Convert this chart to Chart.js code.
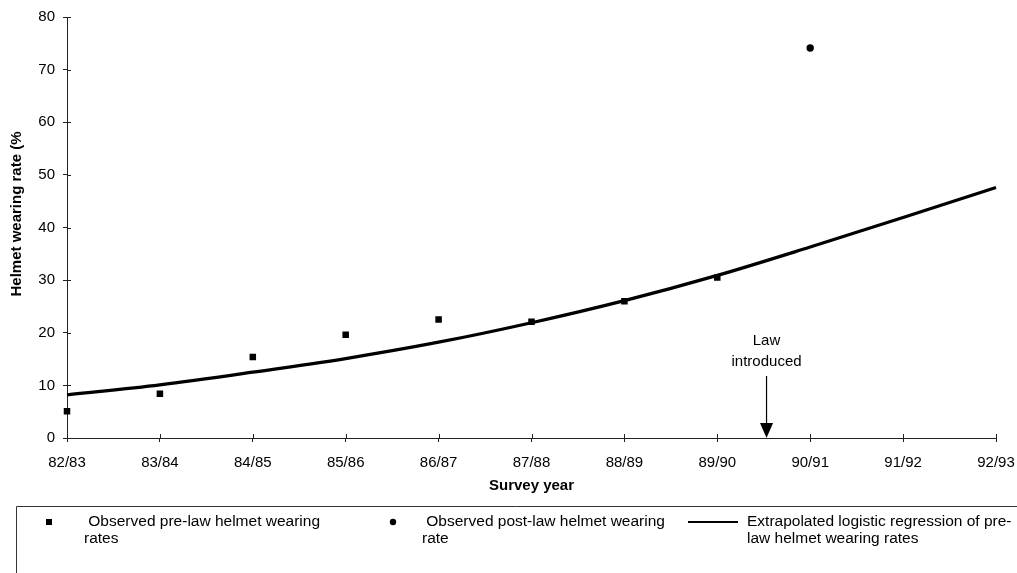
<!DOCTYPE html>
<html>
<head>
<meta charset="utf-8">
<title>Helmet wearing rates</title>
<script src="https://cdn.jsdelivr.net/npm/chart.js@4.4.1/dist/chart.umd.min.js"></script>
<style>
    html, body { margin: 0; padding: 0; background: #fff; }
    #wrap { width: 1017px; height: 573px; position: relative; }
</style>
</head>
<body>
<div id="wrap"><canvas id="chart" width="1017" height="573"></canvas></div>
<script>
// Survey years (x axis)
const SURVEY_YEARS = ['82/83', '83/84', '84/85', '85/86', '86/87', '87/88', '88/89', '89/90', '90/91', '91/92', '92/93'];

// Observed rates (%)
const PRE_LAW_RATES = [5.1, 8.4, 15.4, 19.6, 22.5, 22.1, 26.0, 30.5, null, null, null];
const POST_LAW_RATES = [null, null, null, null, null, null, null, null, 74.1, null, null];

// Extrapolated logistic regression curve
const LOGISTIC_FIT = [8.2, 10.1, 12.5, 15.1, 18.2, 21.9, 26.1, 30.9, 36.3, 41.9, 47.6];

// Legend texts, as they wrap in the original
const LEGEND_LINES = [
    [' Observed pre-law helmet wearing', 'rates'],
    [' Observed post-law helmet wearing', 'rate'],
    ['Extrapolated logistic regression of pre-', 'law helmet wearing rates']
];

// Law introduced between 89/90 and 90/91 (category index)
const LAW_AT = 7.53;
const LAW_LABEL = ['Law', 'introduced'];

const Y_TITLE = 'Helmet wearing rate (%';

const FONT_FAMILY = "'Liberation Sans', Arial, sans-serif";
const INK = '#000';
const AXIS = '#222';

/**
 * Ticks in the original cross the axis line: draw the inner half too
 */
const crossTicks = {
    id: 'crossTicks',
    afterDraw(chart) {
        const { ctx, scales: { x, y } } = chart;
        ctx.save();
        ctx.strokeStyle = AXIS;
        ctx.lineWidth = 1;
        ctx.beginPath();
        y.ticks.forEach((t, i) => {
            const py = Math.round(y.getPixelForTick(i)) + 0.5;
            ctx.moveTo(x.left, py);
            ctx.lineTo(x.left + 4, py);
        });
        x.ticks.forEach((t, i) => {
            const px = Math.round(x.getPixelForTick(i)) + 0.5;
            ctx.moveTo(px, y.bottom);
            ctx.lineTo(px, y.bottom - 4);
        });
        ctx.stroke();
        ctx.restore();
    }
};

/**
 * Vertical axis title, sitting a bit above the middle as in the original
 */
const yTitle = {
    id: 'yTitle',
    afterDraw(chart, args, opts) {
        const ctx = chart.ctx;
        ctx.save();
        ctx.translate(opts.x, opts.y);
        ctx.rotate(-Math.PI / 2);
        ctx.font = `bold 15px ${FONT_FAMILY}`;
        ctx.fillStyle = INK;
        ctx.textAlign = 'center';
        ctx.textBaseline = 'middle';
        ctx.fillText(Y_TITLE, 0, 0);
        ctx.restore();
    }
};

/**
 * "Law introduced" label with arrow down to the axis
 */
const lawArrow = {
    id: 'lawArrow',
    afterDatasetsDraw(chart, args, opts) {
        const { ctx, scales: { x, y } } = chart;
        const px = x.getPixelForValue(LAW_AT);
        const base = y.getPixelForValue(0);
        ctx.save();
        ctx.fillStyle = INK;
        ctx.strokeStyle = INK;
        ctx.font = `15px ${FONT_FAMILY}`;
        ctx.textAlign = 'center';
        ctx.textBaseline = 'middle';
        LAW_LABEL.forEach((t, i) => ctx.fillText(t, px, base - opts.textOffset + i * opts.lineGap));
        ctx.lineWidth = 1.2;
        ctx.beginPath();
        ctx.moveTo(px, base - opts.arrowLength);
        ctx.lineTo(px, base - 12);
        ctx.stroke();
        ctx.beginPath();
        ctx.moveTo(px - 6.5, base - 15);
        ctx.lineTo(px + 6.5, base - 15);
        ctx.lineTo(px, base);
        ctx.closePath();
        ctx.fill();
        ctx.restore();
    }
};

/**
 * Boxed legend below the axis title, three wrapped columns
 */
const legendBox = {
    id: 'legendBox',
    afterDraw(chart, args, opts) {
        const ctx = chart.ctx;
        ctx.save();
        ctx.strokeStyle = '#333';
        ctx.lineWidth = 1;
        ctx.beginPath();
        ctx.moveTo(opts.left + 0.5, chart.height);
        ctx.lineTo(opts.left + 0.5, opts.top + 0.5);
        ctx.lineTo(chart.width, opts.top + 0.5);
        ctx.stroke();

        ctx.font = `15.5px ${FONT_FAMILY}`;
        ctx.fillStyle = INK;
        ctx.strokeStyle = INK;
        ctx.textAlign = 'left';
        ctx.textBaseline = 'middle';
        const y0 = opts.firstLine;
        chart.data.datasets.forEach((ds, i) => {
            const col = opts.columns[i];
            if (ds.showLine === false) {
                ctx.beginPath();
                if (ds.pointStyle === 'rect') {
                    ctx.rect(col.marker - 3, y0 - 3, 6, 6);
                } else {
                    ctx.arc(col.marker, y0, 3.2, 0, Math.PI * 2);
                }
                ctx.fill();
            } else {
                ctx.lineWidth = 2;
                ctx.beginPath();
                ctx.moveTo(col.lineFrom, y0);
                ctx.lineTo(col.lineTo, y0);
                ctx.stroke();
            }
            LEGEND_LINES[i].forEach((t, k) => ctx.fillText(t, col.text, y0 + k * opts.lineGap));
        });
        ctx.restore();
    }
};

const chart = new Chart(document.getElementById('chart'), {
    type: 'line',
    data: {
        labels: SURVEY_YEARS,
        datasets: [
            {
                label: LEGEND_LINES[0].join(' ').trim(),
                data: PRE_LAW_RATES,
                showLine: false,
                pointStyle: 'rect',
                pointRadius: 4.6,
                pointBackgroundColor: INK,
                pointBorderWidth: 0,
                order: 1
            },
            {
                label: LEGEND_LINES[1].join(' ').trim(),
                data: POST_LAW_RATES,
                showLine: false,
                pointStyle: 'circle',
                pointRadius: 3.7,
                pointBackgroundColor: INK,
                pointBorderWidth: 0,
                order: 1
            },
            {
                label: LEGEND_LINES[2].join(' '),
                data: LOGISTIC_FIT,
                borderColor: INK,
                borderWidth: 3.3,
                pointRadius: 0,
                cubicInterpolationMode: 'monotone',
                fill: false,
                order: 2
            }
        ]
    },
    options: {
        responsive: false,
        animation: false,
        devicePixelRatio: 1,
        layout: {
            padding: { top: 16, right: 21, bottom: 75, left: 0 }
        },
        plugins: {
            legend: { display: false },
            tooltip: { enabled: false },
            yTitle: { x: 17, y: 214 },
            lawArrow: { textOffset: 97, lineGap: 21, arrowLength: 62 },
            legendBox: {
                left: 16,
                top: 506,
                firstLine: 522,
                lineGap: 17,
                columns: [
                    { marker: 49, text: 84 },
                    { marker: 393, text: 422 },
                    { lineFrom: 688, lineTo: 738, text: 747 }
                ]
            }
        },
        scales: {
            x: {
                offset: false,
                afterFit: s => {
                    s.height = 60;
                    s.paddingLeft = 0;
                    s.paddingRight = 0;
                },
                border: { display: true, color: AXIS, width: 1 },
                grid: { drawOnChartArea: false, drawTicks: true, tickLength: 4, color: AXIS },
                ticks: {
                    color: INK,
                    padding: 12,
                    maxRotation: 0,
                    autoSkip: false,
                    font: { family: FONT_FAMILY, size: 15 }
                },
                title: {
                    display: true,
                    text: 'Survey year',
                    color: INK,
                    padding: { top: 0, bottom: 3 },
                    font: { family: FONT_FAMILY, size: 15, weight: 'bold' }
                }
            },
            y: {
                min: 0,
                max: 80,
                afterFit: s => { s.width = 67; },
                border: { display: true, color: AXIS, width: 1 },
                grid: { drawOnChartArea: false, drawTicks: true, tickLength: 4, color: AXIS },
                ticks: {
                    stepSize: 10,
                    color: INK,
                    padding: 8,
                    font: { family: FONT_FAMILY, size: 15 }
                }
            }
        }
    },
    plugins: [crossTicks, yTitle, lawArrow, legendBox]
});
</script>
</body>
</html>
